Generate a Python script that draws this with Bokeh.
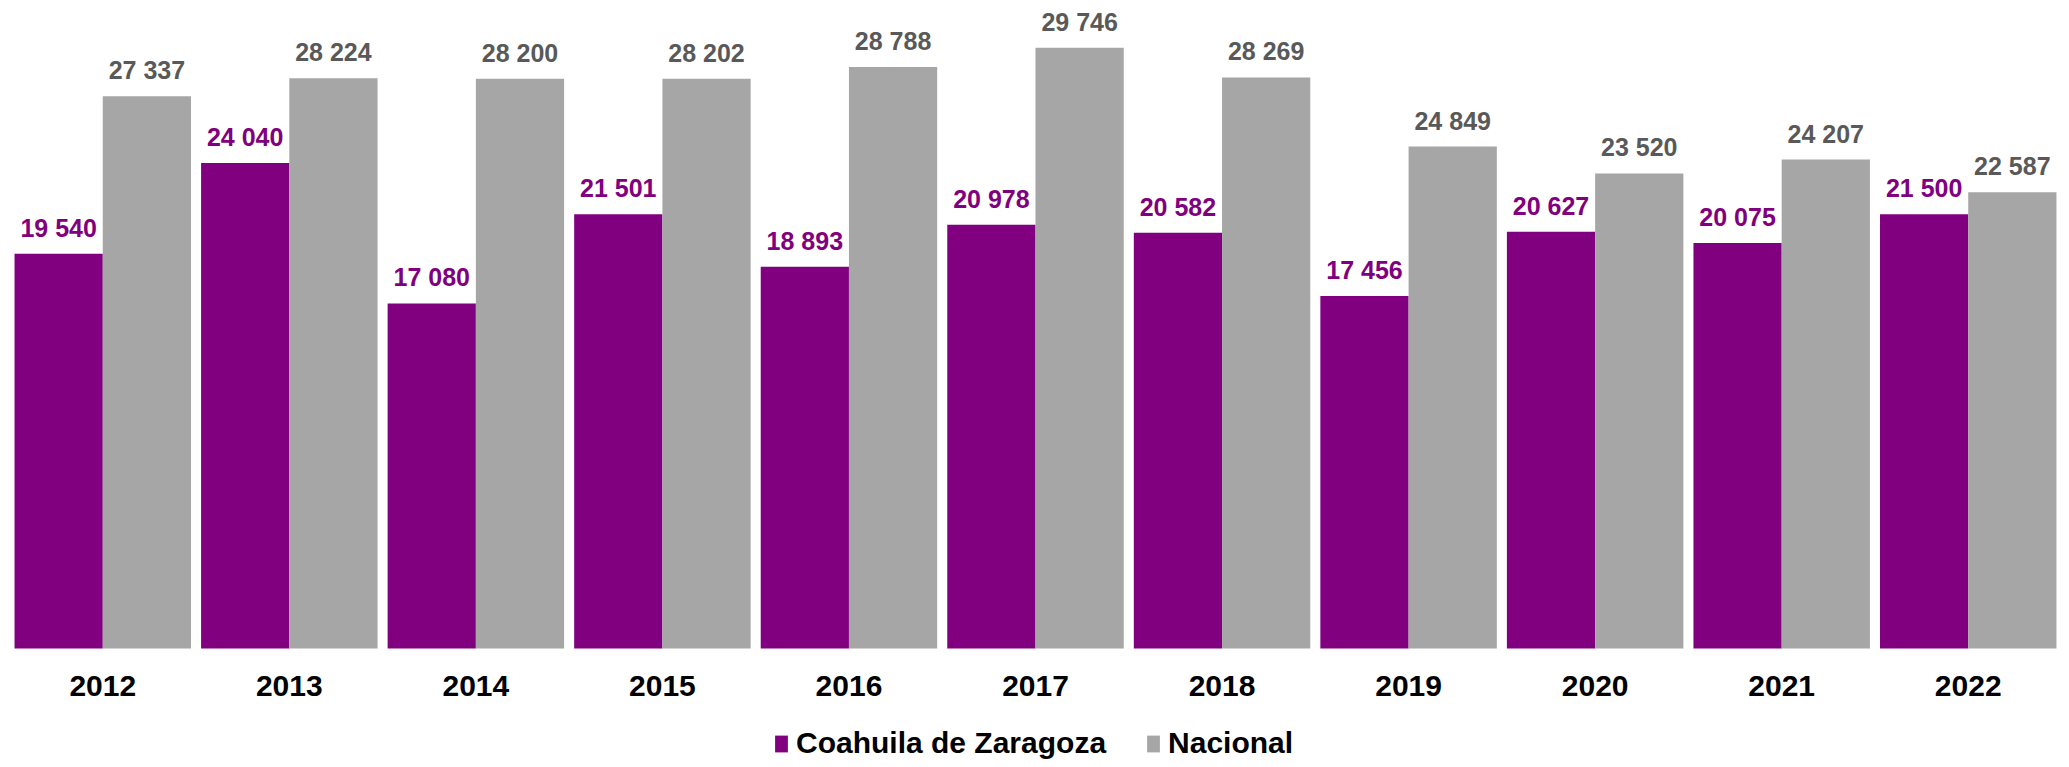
from bokeh.plotting import figure
from bokeh.models import ColumnDataSource, FactorRange, Range1d, LabelSet, Legend, LegendItem
from bokeh.transform import dodge
from bokeh.core.properties import value
from bokeh.embed import file_html
from bokeh.resources import INLINE

years = ["2012", "2013", "2014", "2015", "2016", "2017", "2018", "2019", "2020", "2021", "2022"]
coahuila = [19540, 24040, 17080, 21501, 18893, 20978, 20582, 17456, 20627, 20075, 21500]
nacional = [27337, 28224, 28200, 28202, 28788, 29746, 28269, 24849, 23520, 24207, 22587]
series_names = ["Coahuila de Zaragoza", "Nacional"]

PURPLE = "#800080"
GRAY = "#A6A6A6"
FONT = "Liberation Sans"

def fmt(v):
    return f"{v:,}".replace(",", " ")

source = ColumnDataSource(dict(
    year=years,
    coahuila=coahuila,
    nacional=nacional,
    coahuila_lbl=[fmt(v) for v in coahuila],
    nacional_lbl=[fmt(v) for v in nacional],
))

p = figure(
    x_range=FactorRange(*years, range_padding=0),
    y_range=Range1d(-5495, 32079),
    width=2061, height=759,
    output_backend="svg", toolbar_location=None,
    min_border_left=9, min_border_right=0, min_border_top=0, min_border_bottom=0,
)
p.outline_line_color = None
p.xgrid.grid_line_color = None
p.ygrid.grid_line_color = None
p.yaxis.visible = False

bw = 0.473
off = bw / 2
r1 = p.vbar(x=dodge("year", -off, range=p.x_range), top="coahuila", width=bw,
            source=source, fill_color=PURPLE, line_color=None)
r2 = p.vbar(x=dodge("year", off, range=p.x_range), top="nacional", width=bw,
            source=source, fill_color=GRAY, line_color=None)

l1 = LabelSet(x=dodge("year", -off, range=p.x_range), y="coahuila", text="coahuila_lbl",
              source=source, y_offset=26, text_align="center", text_baseline="middle",
              text_font=value(FONT), text_font_style="bold", text_font_size="25px",
              text_color=PURPLE)
l2 = LabelSet(x=dodge("year", off, range=p.x_range), y="nacional", text="nacional_lbl",
              source=source, y_offset=26, text_align="center", text_baseline="middle",
              text_font=value(FONT), text_font_style="bold", text_font_size="25px",
              text_color="#595959")
p.add_layout(l1)
p.add_layout(l2)

ax = p.xaxis[0]
ax.fixed_location = 0
ax.axis_line_color = None
ax.major_tick_line_color = None
ax.minor_tick_line_color = None
ax.major_tick_out = 0
ax.major_tick_in = 0
ax.major_label_standoff = 27
ax.major_label_text_font = FONT
ax.major_label_text_font_style = "bold"
ax.major_label_text_font_size = "30px"
ax.major_label_text_color = "black"

legend = Legend(
    items=[LegendItem(label=series_names[0], renderers=[r1]),
           LegendItem(label=series_names[1], renderers=[r2])],
    orientation="horizontal",
    location=(764, -1),
    glyph_width=16, glyph_height=21, label_standoff=7, spacing=39,
    label_text_font=FONT, label_text_font_style="bold", label_text_font_size="30px",
    label_text_color="black", label_height=30,
    padding=0, margin=0, border_line_color=None, background_fill_alpha=0,
)
p.add_layout(legend)

open("out.html", "w").write(file_html(p, INLINE))
